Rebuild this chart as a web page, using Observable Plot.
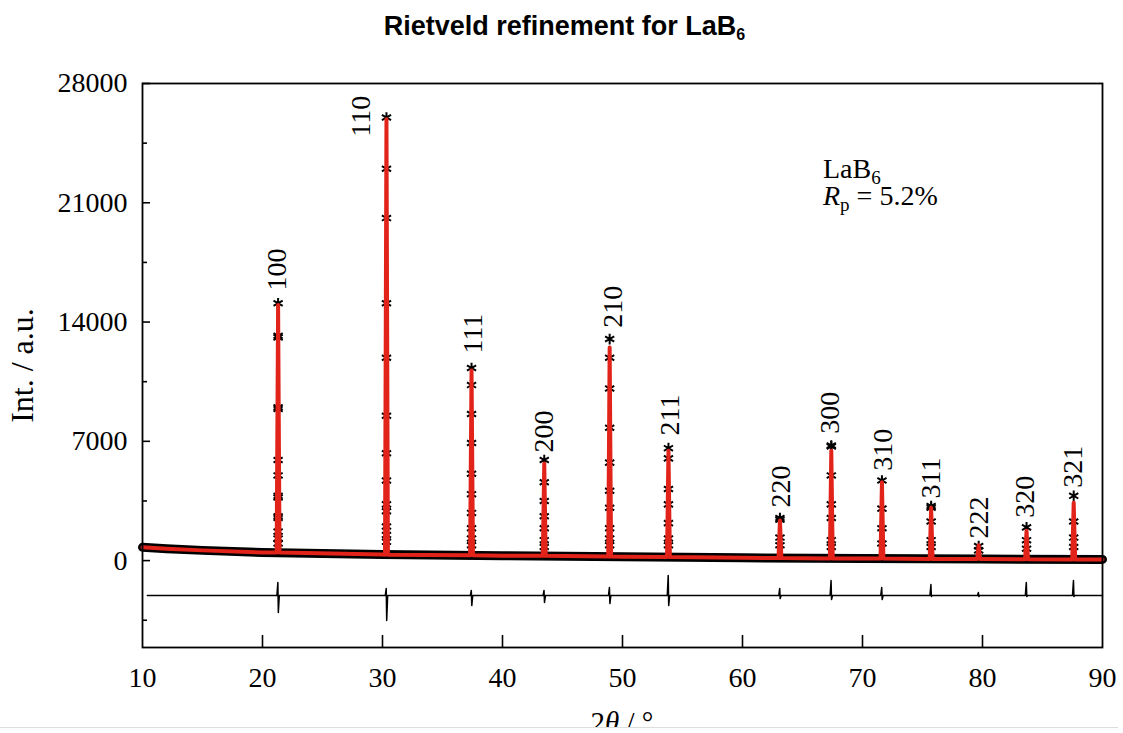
<!DOCTYPE html>
<html><head><meta charset="utf-8">
<script src="https://cdn.jsdelivr.net/npm/d3@7"></script>
<script src="https://cdn.jsdelivr.net/npm/@observablehq/plot@0.6"></script>
<style>
body{margin:0;background:#fff;}
#title{height:60px;box-sizing:border-box;padding-top:13px;padding-left:6px;text-align:center;font:bold 27px 'Liberation Sans',Arial,sans-serif;line-height:27px;color:#000;}
#title sub{font-size:16px;vertical-align:-5px;line-height:0;}
#chart{height:667px;}
#chart svg text{font-family:'Liberation Serif','Times New Roman',serif !important;}
#rule{width:1118px;border-top:1px solid #ddd;}
</style></head><body>
<div id="title">Rietveld refinement for LaB<sub>6</sub></div>
<div id="chart"></div>
<div id="rule"></div>
<script>
// ---- data ----
const hkl      = ["100","110","111","200","210","211","220","300","310","311","222","320","321"];
const peakPos  = [21.3, 30.33, 37.42, 43.48, 48.93, 53.83, 63.12, 67.4, 71.62, 75.72, 79.68, 83.67, 87.6];
const peakBase = [470, 350, 320, 280, 240, 210, 150, 130, 120, 100, 90, 80, 70];
const peakCalcTop = [15000, 25900, 11150, 5700, 12500, 6450, 2350, 6450, 4600, 3100, 900, 1750, 3400];
// observed points (intensity) visible on each peak
const obsOnPeaks = [
  [15100, 13200, 13100, 9000, 8900, 5900, 5000, 3800, 3700, 2600, 2500, 1700, 1300, 1000],
  [26000, 23000, 20100, 15100, 11900, 8500, 6300, 4700, 3300, 2900, 2000, 1500, 1100],
  [11300, 10300, 8600, 6900, 5100, 3900, 2800, 1900, 1300, 900],
  [5900, 4600, 3500, 2600, 1900, 1200, 800],
  [13000, 11900, 10100, 7800, 5750, 4100, 3100, 1900, 1300, 900],
  [6600, 6000, 4200, 3300, 2200, 1300, 900],
  [2500, 2400, 1350, 900],
  [6750, 6700, 5000, 3300, 2500, 1200, 800],
  [4700, 3050, 1900, 1000],
  [3200, 3100, 2300, 1200, 800],
  [850, 600],
  [1950, 1200, 700],
  [3800, 2300, 1350, 800]
];
// background
const bgX = [10, 12, 15, 20, 30, 40, 50, 60, 70, 80, 90];
const bgY = [780, 700, 600, 480, 360, 290, 230, 160, 120, 90, 70];
// difference curve
const diffBase = -2050;
const diffUp   = [760, 410, 300, 300, 470, 1170, 410, 880, 470, 650, 175, 760, 880];
const diffDown = [1000, 1470, 590, 410, 470, 590, 180, 230, 230, 60, 60, 60, 60];
// peak label positions (2θ, intensity at label start)
const labelX = [21.25, 28.17, 37.58, 43.42, 49.17, 53.92, 63.17, 67.33, 71.67, 75.67, 79.67, 83.58, 87.58];
const labelY = [15850, 24880, 12150, 6340, 13670, 7340, 3110, 7450, 5280, 3640, 1290, 2520, 4280];
// axes
const xTicks = [10, 20, 30, 40, 50, 60, 70, 80, 90];
const yTicks = [0, 7000, 14000, 21000, 28000];
const yMinor = [-3500, 3500, 10500, 17500, 24500];
const annoX = 66.75, annoY1 = 22420, annoY2 = 20840;

// ---- build mark tables ----
const bg = bgX.map((x, i) => ({x, y: bgY[i]}));
const calc = bg.slice();
peakPos.forEach((p, i) => {
  calc.push({x: p - 0.12, y: peakBase[i]}, {x: p, y: peakCalcTop[i]}, {x: p + 0.12, y: peakBase[i]});
});
calc.sort((a, b) => a.x - b.x);
const obs = [];
obsOnPeaks.forEach((arr, i) => arr.forEach(v => obs.push({x: peakPos[i], y: v})));
const diff = [{x: 10.4, y: diffBase}];
peakPos.forEach((p, i) => {
  diff.push({x: p - 0.1, y: diffBase}, {x: p - 0.02, y: diffBase + diffUp[i]},
            {x: p + 0.02, y: diffBase - diffDown[i]}, {x: p + 0.1, y: diffBase});
});
diff.push({x: 90, y: diffBase});
const labels = hkl.map((t, i) => ({t, x: labelX[i], y: labelY[i]}));

const serif = "Liberation Serif";
const plot = Plot.plot({
  width: 1123, height: 667,
  marginTop: 23, marginLeft: 142, marginRight: 21, marginBottom: 80,
  x: {domain: [10, 90]},
  y: {domain: [-5100, 28000]},
  style: {fontFamily: serif, fontSize: "28px", color: "black", background: "white", overflow: "hidden"},
  marks: [
    Plot.line(bg, {x: "x", y: "y", stroke: "black", strokeWidth: 9}),
    Plot.line(diff, {x: "x", y: "y", stroke: "black", strokeWidth: 1.5}),
    Plot.dot(obs, {x: "x", y: "y", symbol: "asterisk", r: 5, stroke: "black", strokeWidth: 2}),
    Plot.line(calc, {x: "x", y: "y", stroke: "#e2231a", strokeWidth: 4, strokeLinejoin: "round"}),
    Plot.frame({stroke: "black", strokeWidth: 1.8}),
    Plot.axisX({ticks: xTicks, tickSize: 0, tickPadding: 20, tickFormat: d => String(d), label: null, fontSize: 28, fontFamily: serif}),
    Plot.axisX({ticks: xTicks.slice(1, -1), tickSize: -12, tickFormat: () => "", label: null, strokeWidth: 1.6}),
    Plot.axisY({ticks: yTicks, tickSize: 0, tickPadding: 15, tickFormat: d => String(d), label: null, fontSize: 28, fontFamily: serif}),
    Plot.axisY({ticks: yTicks, tickSize: -8, tickFormat: () => "", label: null, strokeWidth: 1.6}),
    Plot.axisY({ticks: yMinor, tickSize: -5, tickFormat: () => "", label: null, strokeWidth: 1.6}),
    Plot.text(labels, {x: "x", y: "y", text: "t", rotate: -90, textAnchor: "start", fontSize: 28, fontFamily: serif, fill: "black"}),
    Plot.text(["Int. / a.u."], {frameAnchor: "left", dx: -120, rotate: -90, textAnchor: "middle", fontSize: 32, fontFamily: serif, fill: "black"})
  ]
});
document.getElementById("chart").appendChild(plot);

const svg = d3.select(plot);
const sx = plot.scale("x"), sy = plot.scale("y");
const t1 = svg.append("text").attr("x", sx.apply(annoX)).attr("y", sy.apply(annoY1))
  .attr("font-family", serif).attr("font-size", 28).attr("text-anchor", "start").attr("fill", "black");
t1.append("tspan").text("LaB");
t1.append("tspan").attr("dy", 6).attr("font-size", 19).text("6");
const t2 = svg.append("text").attr("x", sx.apply(annoX)).attr("y", sy.apply(annoY2))
  .attr("font-family", serif).attr("font-size", 28).attr("text-anchor", "start").attr("fill", "black");
t2.append("tspan").attr("font-style", "italic").text("R");
t2.append("tspan").attr("dy", 6).attr("font-size", 19).text("p");
t2.append("tspan").attr("dy", -6).text(" = 5.2%");
const xl = svg.append("text").attr("x", (sx.apply(10) + sx.apply(90)) / 2).attr("y", 672)
  .attr("font-family", serif).attr("font-size", 29).attr("text-anchor", "middle").attr("fill", "black");
xl.append("tspan").text("2");
xl.append("tspan").attr("font-style", "italic").text("θ");
xl.append("tspan").text(" / °");
</script></body></html>
